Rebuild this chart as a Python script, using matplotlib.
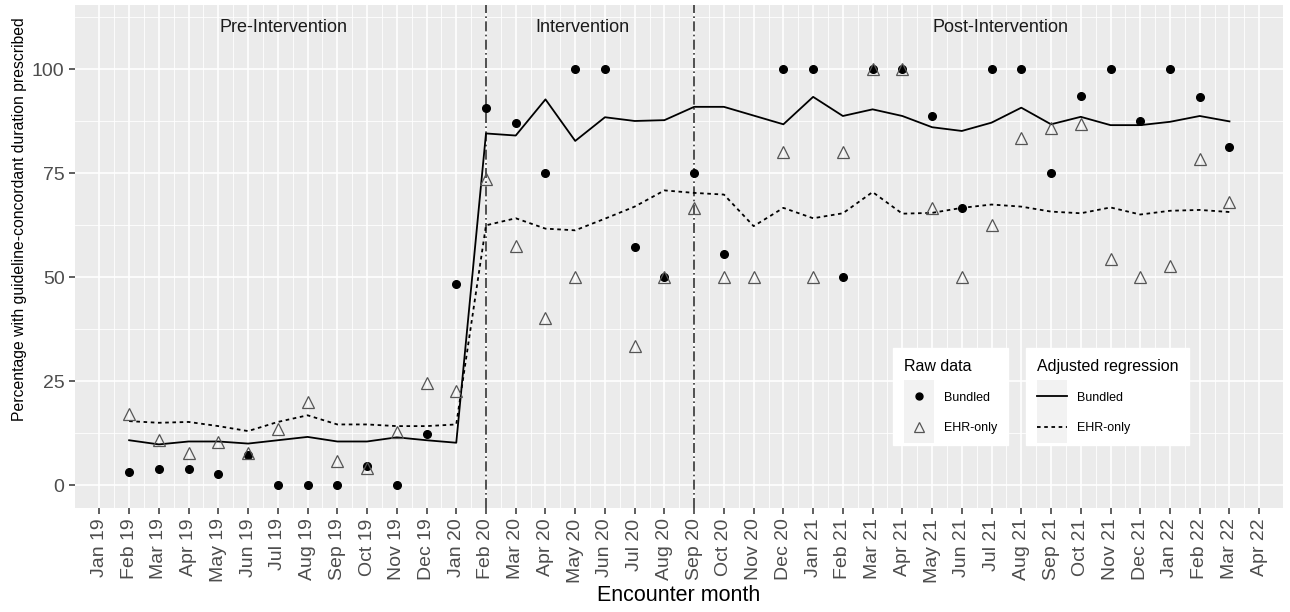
import numpy as np
import matplotlib.pyplot as plt
from matplotlib.lines import Line2D
from matplotlib.patches import Rectangle
from matplotlib.legend_handler import HandlerBase, HandlerLine2D
from matplotlib.ticker import MultipleLocator

plt.rcParams['font.family'] = ['Liberation Sans', 'DejaVu Sans']

# months on the axis (Jan 19 .. Apr 22)
months = ["Jan 19", "Feb 19", "Mar 19", "Apr 19", "May 19", "Jun 19", "Jul 19", "Aug 19",
          "Sep 19", "Oct 19", "Nov 19", "Dec 19", "Jan 20", "Feb 20", "Mar 20", "Apr 20",
          "May 20", "Jun 20", "Jul 20", "Aug 20", "Sep 20", "Oct 20", "Nov 20", "Dec 20",
          "Jan 21", "Feb 21", "Mar 21", "Apr 21", "May 21", "Jun 21", "Jul 21", "Aug 21",
          "Sep 21", "Oct 21", "Nov 21", "Dec 21", "Jan 22", "Feb 22", "Mar 22", "Apr 22"]

# data months: Feb 19 .. Mar 22
data_months = months[1:39]

nan = np.nan
bundled_raw = [3.1, 3.9, 3.8, 2.6, 7.2, 0, 0, 0, 4.6, 0, 12.2, 48.3,
               90.7, 87.2, 75.0, 100, 100, 57.2, 50.0, 75.0, 55.5, nan, 100, 100,
               50.0, 100, 100, 88.9, 66.7, 100, 100, 75.0, 93.7, 100, 87.6, 100, 93.4, 81.3]
ehr_raw = [17.2, 10.8, 7.8, 10.3, 7.8, 13.5, 20.1, 5.7, 4.1, 12.8, 24.6, 22.7,
           73.7, 57.5, 40.1, 50.0, nan, 33.4, 50.0, 66.7, 50.0, 50.0, 80.2, 50.0,
           80.2, 100, 100, 66.7, 50.0, 62.5, 83.6, 86.0, 86.9, 54.4, 50.0, 52.8, 78.5, 68.1]
bundled_fit = [10.8, 9.8, 10.5, 10.5, 10.0, 10.8, 11.6, 10.5, 10.5, 11.5, 10.8, 10.2,
               84.6, 84.1, 92.8, 82.8, 88.5, 87.6, 87.8, 91.0, 91.0, 88.9, 86.8, 93.4,
               88.8, 90.4, 88.8, 86.1, 85.2, 87.2, 90.8, 86.8, 88.6, 86.6, 86.6, 87.4, 88.8, 87.5]
ehr_fit = [15.4, 15.0, 15.2, 14.2, 13.0, 15.2, 16.8, 14.6, 14.6, 14.2, 14.2, 14.6,
           62.5, 64.2, 61.7, 61.3, 64.1, 67.0, 70.9, 70.3, 69.9, 62.3, 66.7, 64.2,
           65.4, 70.5, 65.3, 65.5, 66.7, 67.5, 67.0, 65.8, 65.4, 66.8, 65.1, 66.0, 66.2, 65.7]

phase_breaks = ["Feb 20", "Sep 20"]
phase_labels = ["Pre-Intervention", "Intervention", "Post-Intervention"]
phase_label_pos = [6.2, 16.25, 30.3]


class KeyBackground(HandlerBase):
    # ggplot-like grey key background behind each legend handle
    def __init__(self, pad):
        super().__init__()
        self.base = HandlerLine2D()
        self.pad = pad

    def create_artists(self, legend, orig_handle, xdescent, ydescent, width, height, fontsize, trans):
        rect = Rectangle((-xdescent, -ydescent - self.pad), width, height + 2 * self.pad,
                         facecolor="#F2F2F2", edgecolor="none", transform=trans)
        arts = self.base.create_artists(legend, orig_handle, xdescent, ydescent,
                                        width, height, fontsize, trans)
        return [rect] + list(arts)


x_all = np.arange(len(months))
x = np.array([months.index(m) for m in data_months])

fig = plt.figure(figsize=(12.9, 6.12), dpi=100)
ax = fig.add_axes([75 / 1290, 1 - 508 / 612, (1283 - 75) / 1290, (508 - 5) / 612])

ax.set_facecolor("#EBEBEB")
for s in ax.spines.values():
    s.set_visible(False)

ax.set_xlim(-0.82, 39.8)
ax.set_ylim(-5.5, 115.5)
ax.set_xticks(x_all)
ax.set_xticklabels(months, rotation=90, fontsize=14, color="#4D4D4D")
ax.set_xticks(x_all[:-1] + 0.5, minor=True)
ax.yaxis.set_major_locator(MultipleLocator(25))
ax.yaxis.set_minor_locator(MultipleLocator(12.5))
ax.set_yticks([0, 25, 50, 75, 100])
ax.tick_params(axis="y", labelsize=14, labelcolor="#4D4D4D")
ax.tick_params(which="major", length=4, width=1.1, color="#333333")
ax.tick_params(which="minor", length=0)
ax.grid(which="major", color="white", linewidth=1.2)
ax.grid(which="minor", color="white", linewidth=0.6)
ax.set_axisbelow(True)

for b in phase_breaks:
    ax.axvline(months.index(b), color="#333333", linestyle=(0, (6, 2, 1, 2)), linewidth=1.2)

for lab, pos in zip(phase_labels, phase_label_pos):
    ax.text(pos, 110, lab, ha="center", va="center", fontsize=13, color="#1A1A1A")

ax.plot(x, bundled_fit, color="black", linewidth=1.3, linestyle="-")
ax.plot(x, ehr_fit, color="black", linewidth=1.3, linestyle=(0, (2, 2)))
ax.plot(x, bundled_raw, linestyle="none", marker="o", markersize=5.5, color="black")
ax.plot(x, ehr_raw, linestyle="none", marker="^", markersize=9, markerfacecolor="none",
        markeredgecolor="#555555", markeredgewidth=0.9)

ax.set_xlabel("Encounter month", fontsize=15.5, labelpad=2)
ax.set_ylabel("Percentage with guideline-concordant duration prescribed", fontsize=11.3)
ax.yaxis.set_label_coords((27 - 75) / 1208, (508 - 219) / 503)

raw_handles = [Line2D([], [], linestyle="none", marker="o", markersize=5, color="black"),
               Line2D([], [], linestyle="none", marker="^", markersize=6.5, markerfacecolor="none",
                      markeredgecolor="#555555", markeredgewidth=0.9)]
fit_handles = [Line2D([], [], color="black", linewidth=1.3),
               Line2D([], [], color="black", linewidth=1.3, linestyle=(0, (2, 2)))]

spacing = 1.45
leg_kw = dict(frameon=True, fancybox=False, edgecolor="white", facecolor="white", framealpha=1,
              fontsize=9, title_fontsize=11.5, alignment="left", handlelength=2.4,
              labelspacing=spacing, borderpad=0.85, handletextpad=0.85, borderaxespad=0,
              handler_map={Line2D: KeyBackground(spacing * 9 / 2 + 2)},
              bbox_transform=fig.transFigure, loc="upper left")
leg1 = ax.legend(raw_handles, ["Bundled", "EHR-only"], title="Raw data",
                 bbox_to_anchor=(893 / 1290, 1 - 348 / 612), **leg_kw)
ax.add_artist(leg1)
leg2 = ax.legend(fit_handles, ["Bundled", "EHR-only"], title="Adjusted regression",
                 bbox_to_anchor=(1026 / 1290, 1 - 348 / 612), **leg_kw)

fig.savefig("out.png", dpi=100)
